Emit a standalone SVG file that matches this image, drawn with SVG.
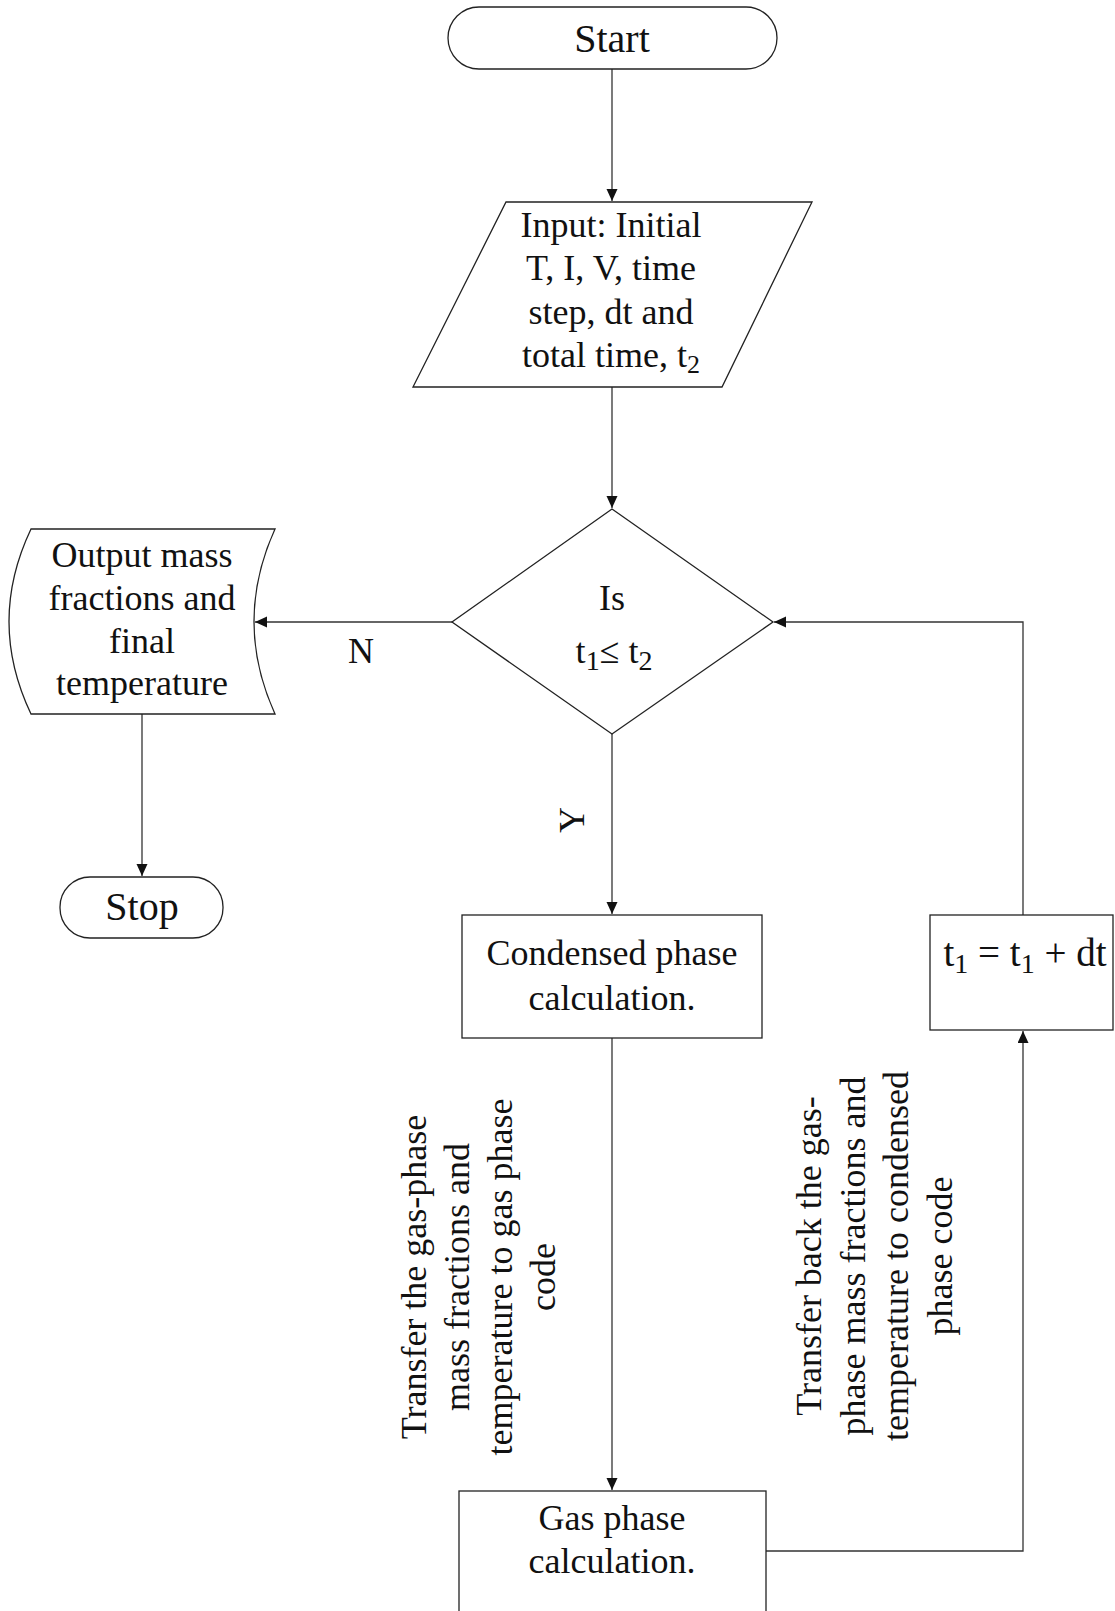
<svg xmlns="http://www.w3.org/2000/svg" width="1115" height="1611" viewBox="0 0 1115 1611">
<defs>
<marker id="arr" markerUnits="userSpaceOnUse" markerWidth="13" markerHeight="12" refX="12" refY="5.5" orient="auto">
<path d="M0,0 L12,5.5 L0,11 z" fill="#111"/>
</marker>
<style>
.shape{fill:#fff;stroke:#222;stroke-width:1.3}
.conn{fill:none;stroke:#333;stroke-width:1.3}
.t{font-family:"Liberation Serif","Times New Roman",serif;font-size:36px;fill:#111;text-anchor:middle}
.big{font-size:40px}
.eq{font-size:39px}
.sub{font-size:26px}
.sub2{font-size:28px}
</style>
</defs>
<rect width="1115" height="1611" fill="#fff"/>
<g id="connectors">
<path class="conn" d="M612,69 L612,201" marker-end="url(#arr)"/>
<path class="conn" d="M612,387 L612,508" marker-end="url(#arr)"/>
<path class="conn" d="M452,622 L255,622" marker-end="url(#arr)"/>
<path class="conn" d="M142,714 L142,876" marker-end="url(#arr)"/>
<path class="conn" d="M612,734 L612,914" marker-end="url(#arr)"/>
<path class="conn" d="M612,1038 L612,1490" marker-end="url(#arr)"/>
<path class="conn" d="M766,1551 L1023,1551 L1023,1031" marker-end="url(#arr)"/>
<path class="conn" d="M1023,915 L1023,622 L774,622" marker-end="url(#arr)"/>
<text class="t" x="361" y="663">N</text>
<text class="t" transform="translate(584,820) rotate(-90)" x="0" y="0">Y</text>
<g class="t" transform="translate(426,1277) rotate(-90)">
<text x="0" y="0">Transfer the gas-phase</text>
<text x="0" y="43">mass fractions and</text>
<text x="0" y="86">temperature to gas phase</text>
<text x="0" y="129">code</text>
</g>
<g class="t" transform="translate(821,1256) rotate(-90)">
<text x="0" y="0">Transfer back the gas-</text>
<text x="0" y="43.5">phase mass fractions and</text>
<text x="0" y="87">temperature to condensed</text>
<text x="0" y="131">phase code</text>
</g>
</g>
<g id="start">
<rect class="shape" x="448" y="7" width="329" height="62" rx="31" ry="31"/>
<text class="t big" x="612" y="52">Start</text>
</g>
<g id="input">
<path class="shape" d="M506,202 L812,202 L722,387 L413,387 Z"/>
<text class="t" x="611" y="237">Input: Initial</text>
<text class="t" x="611" y="280">T, I, V, time</text>
<text class="t" x="611" y="324">step, dt and</text>
<text class="t" x="611" y="367">total time, t<tspan class="sub" dy="6">2</tspan></text>
</g>
<g id="decision">
<path class="shape" d="M612,509 L773,622 L612,734 L452,622 Z"/>
<text class="t" x="612" y="610">Is</text>
<text class="t" x="614" y="663">t<tspan class="sub2" dy="7">1</tspan><tspan dy="-7">≤ t</tspan><tspan class="sub2" dy="7">2</tspan></text>
</g>
<g id="output">
<path class="shape" d="M31,529 L275,529 Q233,621.5 275,714 L31,714 Q-13,621.5 31,529 Z"/>
<text class="t" x="142" y="567">Output mass</text>
<text class="t" x="142" y="610">fractions and</text>
<text class="t" x="142" y="653">final</text>
<text class="t" x="142" y="695">temperature</text>
</g>
<g id="stop">
<rect class="shape" x="60" y="877" width="163" height="61" rx="30" ry="30"/>
<text class="t big" x="142" y="920">Stop</text>
</g>
<g id="condensed">
<rect class="shape" x="462" y="915" width="300" height="123"/>
<text class="t" x="612" y="965">Condensed phase</text>
<text class="t" x="612" y="1010">calculation.</text>
</g>
<g id="increment">
<rect class="shape" x="930" y="915" width="183" height="115"/>
<text class="t eq" x="1025" y="966">t<tspan class="sub2" dy="7">1</tspan><tspan dy="-7"> = t</tspan><tspan class="sub2" dy="7">1</tspan><tspan dy="-7"> + dt</tspan></text>
</g>
<g id="gas">
<rect class="shape" x="459" y="1491" width="307" height="140"/>
<text class="t" x="612" y="1530">Gas phase</text>
<text class="t" x="612" y="1573">calculation.</text>
</g>
</svg>
